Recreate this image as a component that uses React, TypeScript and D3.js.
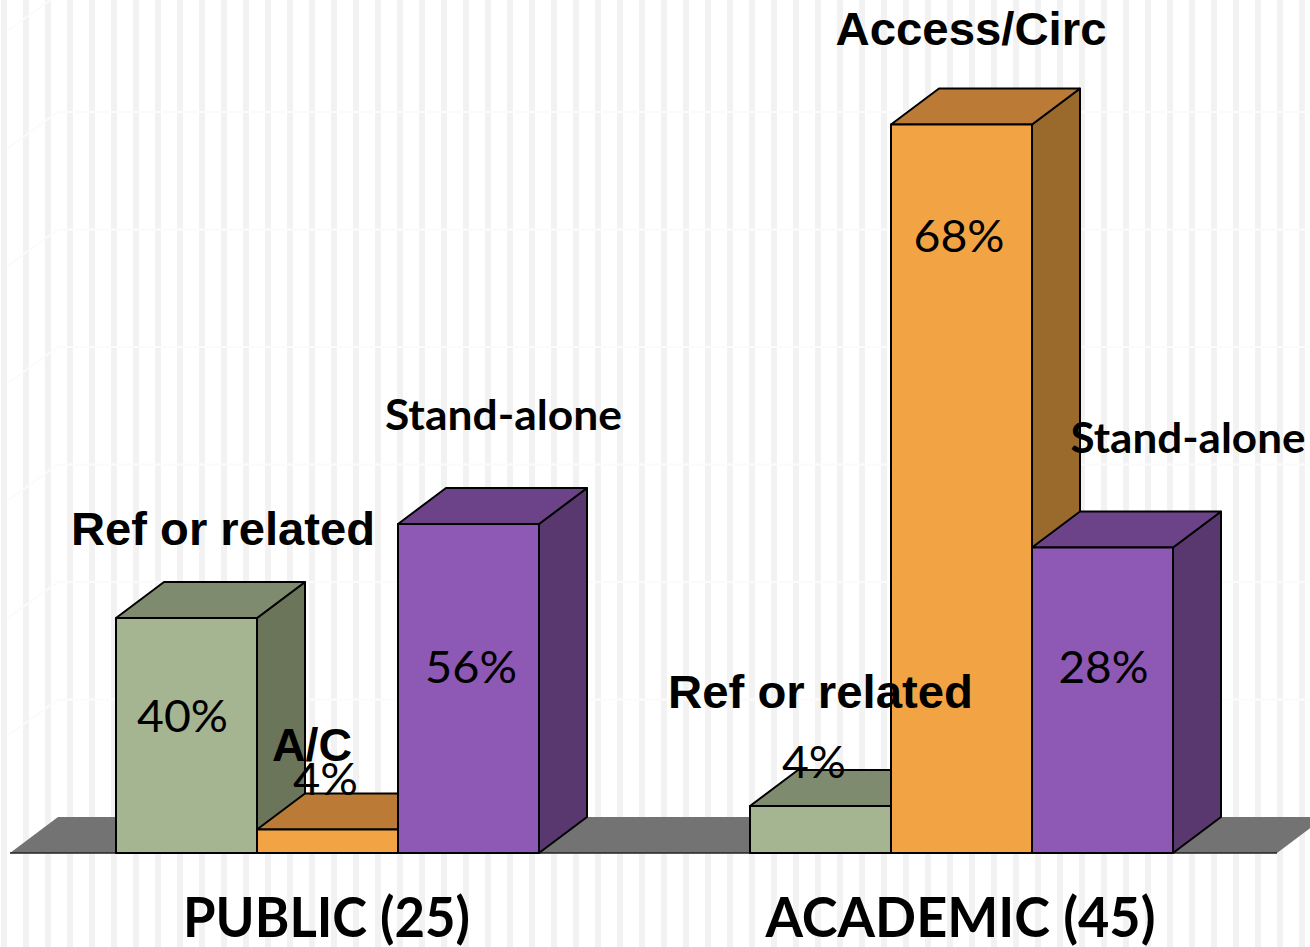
import React from "react";
import * as d3 from "d3";

// ---- data ----
const groups = ["PUBLIC (25)", "ACADEMIC (45)"];
const series = ["Ref or related", "Access/Circ", "Stand-alone"];
const publicCounts = [10, 1, 14];
const academicCounts = [2, 31, 13];
const publicPct = ["40%", "4%", "56%"];
const academicPct = ["4%", "68%", "28%"];
const publicSeriesLabels = ["Ref or related", "A/C", "Stand-alone"];
const academicSeriesLabels = ["Ref or related", "Access/Circ", "Stand-alone"];
const gridTicks = [5, 10, 15, 20, 25, 30, 35];

// ---- styles ----
const frontColors = ["#a6b591", "#f2a444", "#8e59b5"];
const topColors = ["#7f8b6e", "#bb7b36", "#6c4389"];
const sideColors = ["#6b7559", "#9a6a2c", "#58386f"];
const W = 1310;
const H = 947;
const DX = 48;
const DY = -36;
const ARIAL = "'Liberation Sans', Arial, sans-serif";
const GEO = "Lato, 'Open Sans', sans-serif";

// label layout (offsets from bar front-top center) and widths
const pubLabelLayout = [
  { dx: 36.5, dy: -73, w: 304, font: ARIAL },
  { dx: -15.5, dy: -68.5, w: 80, font: ARIAL },
  { dx: 35, dy: -94, w: 237, font: GEO },
];
const acadLabelLayout = [
  { dx: 0, dy: -98, w: 305, font: ARIAL },
  { dx: 9.5, dy: -79.5, w: 271, font: ARIAL },
  { dx: 85.5, dy: -94.5, w: 235, font: GEO },
];
const pubPctLayout = [
  { dx: -4, dy: 114, w: 91 },
  { dx: -2, dy: -34.5, w: 65 },
  { dx: 2.5, dy: 159, w: 92 },
];
const acadPctLayout = [
  { dx: -6.5, dy: -28, w: 64 },
  { dx: -2.5, dy: 127.5, w: 91 },
  { dx: 1, dy: 135.5, w: 90 },
];

export default function App() {
  const baseY = 853;
  const y = d3.scaleLinear().domain([0, 35]).range([baseY, baseY - 35 * 23.5]);
  const x0 = d3
    .scaleBand<string>()
    .domain(groups)
    .range([116, 1173])
    .paddingInner(211 / 634)
    .paddingOuter(0);
  const x1 = d3.scaleBand<string>().domain(series).range([0, x0.bandwidth()]);

  const stripes = d3.range(1, W, 22);
  const floorLeft = 10;
  const floorRight = 1277;
  const backLeft = floorLeft + DX;

  const groupData = [
    { name: groups[0], counts: publicCounts, pct: publicPct, labels: publicSeriesLabels, lay: pubLabelLayout, play: pubPctLayout },
    { name: groups[1], counts: academicCounts, pct: academicPct, labels: academicSeriesLabels, lay: acadLabelLayout, play: acadPctLayout },
  ];

  const pts = (p: number[][]) => p.map((q) => q.join(",")).join(" ");

  return (
    <svg
      width={W}
      height={H}
      style={{ position: "absolute", left: 0, top: 0, display: "block", background: "#fff" }}
    >
      <rect x={0} y={0} width={W} height={H} fill="#ffffff" />
      {stripes.map((sx) => (
        <rect key={sx} x={sx} y={0} width={6} height={H} fill="#f2f2f2" />
      ))}
      {/* gridlines on back wall and side wall */}
      {gridTicks.map((t) => {
        const gy = y(t) + DY;
        return (
          <g key={t} stroke="#fbfbfb" strokeWidth={2} fill="none">
            <line x1={backLeft} x2={W} y1={gy} y2={gy} />
            <line x1={floorLeft - 2} y1={gy - DY} x2={backLeft} y2={gy} />
          </g>
        );
      })}
      {/* floor */}
      <polygon
        points={pts([
          [floorLeft, baseY],
          [floorRight, baseY],
          [floorRight + DX, baseY + DY],
          [backLeft, baseY + DY],
        ])}
        fill="#737373"
      />
      <line x1={floorLeft} x2={floorRight} y1={baseY} y2={baseY} stroke="#222" strokeWidth={1.5} />

      {/* bars */}
      {groupData.map((g) => (
        <g key={g.name}>
          {g.counts.map((v, i) => {
            const xl = (x0(g.name) as number) + (x1(series[i]) as number);
            const xr = xl + x1.bandwidth();
            const yt = y(v);
            const yb = y(0);
            return (
              <g key={i} stroke="#000" strokeWidth={2} strokeLinejoin="round">
                <polygon
                  points={pts([[xr, yt], [xr + DX, yt + DY], [xr + DX, yb + DY], [xr, yb]])}
                  fill={sideColors[i]}
                />
                <polygon
                  points={pts([[xl, yt], [xr, yt], [xr + DX, yt + DY], [xl + DX, yt + DY]])}
                  fill={topColors[i]}
                />
                <rect x={xl} y={yt} width={xr - xl} height={yb - yt} fill={frontColors[i]} />
              </g>
            );
          })}
        </g>
      ))}

      {/* percent labels */}
      {groupData.map((g) =>
        g.counts.map((v, i) => {
          const cx = (x0(g.name) as number) + (x1(series[i]) as number) + x1.bandwidth() / 2;
          const L = g.play[i];
          return (
            <text
              key={g.name + "p" + i}
              x={cx + L.dx}
              y={y(v) + L.dy}
              textAnchor="middle"
              fontFamily={GEO}
              fontSize={44}
              fill="#000"
              textLength={L.w}
              lengthAdjust="spacingAndGlyphs"
            >
              {g.pct[i]}
            </text>
          );
        })
      )}

      {/* series labels */}
      {groupData.map((g) =>
        g.counts.map((v, i) => {
          const cx = (x0(g.name) as number) + (x1(series[i]) as number) + x1.bandwidth() / 2;
          const L = g.lay[i];
          return (
            <text
              key={g.name + "l" + i}
              x={cx + L.dx}
              y={y(v) + L.dy}
              textAnchor="middle"
              fontFamily={L.font}
              fontWeight="bold"
              fontSize={L.font === ARIAL ? 46 : 42}
              fill="#000"
              textLength={L.w}
              lengthAdjust="spacingAndGlyphs"
            >
              {g.labels[i]}
            </text>
          );
        })
      )}

      {/* group labels */}
      {groups.map((name, gi) => (
        <text
          key={name}
          x={(x0(name) as number) + x0.bandwidth() / 2 - 1}
          y={937}
          textAnchor="middle"
          fontFamily={GEO}
          fontWeight="bold"
          fontSize={55}
          fill="#000"
          textLength={gi === 0 ? 287 : 390}
          lengthAdjust="spacingAndGlyphs"
        >
          {name}
        </text>
      ))}
    </svg>
  );
}
